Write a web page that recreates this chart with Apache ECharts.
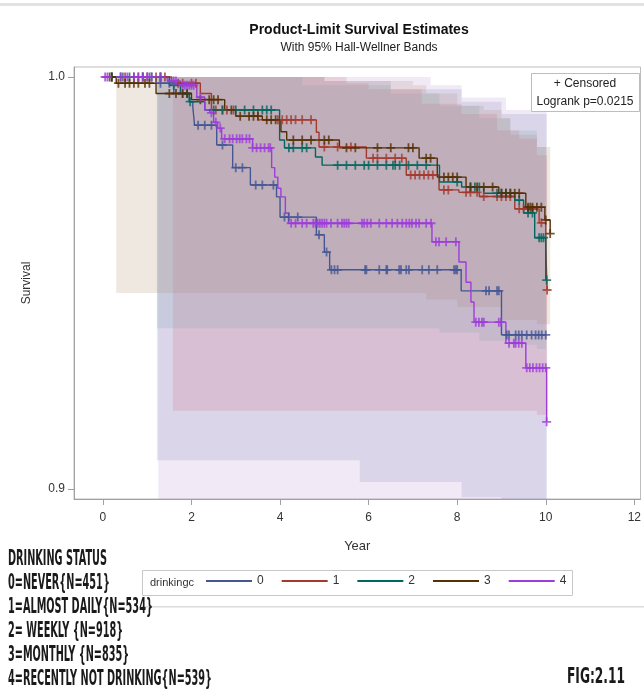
<!DOCTYPE html>
<html><head><meta charset="utf-8">
<script src="https://cdn.jsdelivr.net/npm/echarts@6/dist/echarts.min.js"></script>
<style>html,body{margin:0;padding:0;background:#fff}#c{width:644px;height:700px}</style>
</head><body><div id="c"></div>
<script>
// ---------- DATA ----------
const groups = ['0','1','2','3','4'];
const xTicks = [0,2,4,6,8,10,12];
const yTicks = [0.9,1.0];

// Kaplan-Meier steps (time, survival from that time)
const T0 = [0,1.2,1.6,1.95,2.03,2.07,2.57,2.93,3.33,3.92,4.0,4.82,5.0,5.12,8.09,9.0,10.02];
const S0 = [1.0,0.9985,0.996,0.994,0.9927,0.9883,0.9835,0.978,0.9738,0.9709,0.966,0.9617,0.9575,0.9532,0.9481,0.9374,0.9374];
const T1 = [0,1.55,2.2,2.45,3.5,4.82,4.88,5.95,6.85,7.59,8.04,8.5,9.3,9.85,10.0,10.03];
const S1 = [1.0,0.9985,0.996,0.992,0.9896,0.9866,0.983,0.9803,0.9762,0.9726,0.972,0.971,0.968,0.9646,0.9587,0.9483];
const T2 = [0,1.5,1.75,1.95,2.3,3.99,4.1,4.8,4.95,7.6,8.1,8.6,9.3,9.5,9.75,10.0];
const S2 = [1.0,0.998,0.996,0.994,0.992,0.9847,0.9828,0.9806,0.9786,0.9745,0.9733,0.9718,0.9701,0.967,0.961,0.9507];
const T3 = [0,0.3,1.2,2.0,2.75,3.0,3.6,4.02,4.15,5.34,7.14,7.55,8.2,8.94,9.55,9.98,10.1];
const S3 = [1.0,0.9985,0.996,0.9945,0.992,0.9905,0.9896,0.9867,0.9847,0.9828,0.9803,0.9757,0.9733,0.9718,0.9684,0.9653,0.962];
const T4 = [0,1.45,1.75,2.12,2.3,2.41,2.5,2.59,2.68,3.38,3.81,3.88,3.95,4.02,4.12,4.19,7.43,8.04,8.2,8.31,8.38,9.1,9.55,10.02];
const S4 = [1.0,0.999,0.998,0.9951,0.992,0.9913,0.989,0.9876,0.985,0.9828,0.978,0.9757,0.973,0.9709,0.967,0.9645,0.96,0.9551,0.9502,0.9454,0.9405,0.9354,0.9294,0.9163];

// Censoring times
const C0 = [0.2,0.45,0.7,0.9,1.05,1.3,1.5,1.8,2.15,2.3,2.45,2.7,3.0,3.15,3.45,3.6,3.85,4.1,4.2,4.4,4.88,5.05,5.16,5.23,5.3,5.92,5.95,6.24,6.4,6.42,6.69,6.73,6.85,6.91,7.21,7.36,7.55,7.93,7.97,8.0,8.65,8.72,8.9,8.94,9.12,9.17,9.32,9.39,9.46,9.57,9.68,9.77,9.84,9.91,10.0];
const C1 = [0.5,0.8,1.0,1.2,1.3,1.4,1.7,1.8,2.0,2.1,2.55,2.7,2.8,2.95,3.95,4.05,4.15,4.25,4.35,4.5,4.7,5.0,5.3,5.6,6.1,6.2,6.4,6.6,6.75,6.95,7.05,7.15,7.25,7.35,7.45,7.7,7.8,8.2,8.3,8.45,8.6,8.9,9.0,9.1,9.2,9.4,9.5,9.6,9.7,9.9,10.03];
const C2 = [0.2,0.4,0.6,0.9,1.1,1.3,1.6,1.9,1.97,2.5,2.7,3.0,3.2,3.4,3.6,3.7,3.8,4.2,4.3,4.5,4.6,5.3,5.5,5.7,5.9,6.0,6.2,6.4,6.55,6.6,6.7,6.9,7.1,7.3,8.0,8.3,8.4,8.5,8.9,9.0,9.1,9.2,9.4,9.6,9.7,9.85,9.9,9.95,10.02];
const C3 = [0.15,0.2,0.35,0.5,0.6,0.7,0.8,0.95,1.05,1.5,1.65,1.8,1.9,2.2,2.4,2.5,2.6,2.9,3.1,3.3,3.4,3.5,3.7,3.8,3.9,4.3,4.5,4.7,5.0,5.1,5.5,5.7,6.2,6.5,6.9,7.0,7.3,7.4,7.7,7.8,7.9,8.0,8.3,8.45,8.6,8.8,9.0,9.1,9.2,9.3,9.4,9.6,9.65,9.7,9.8,9.9,10.0,10.1];
const C4 = [0.05,0.1,0.4,0.55,0.7,0.8,0.9,1.0,1.1,1.3,1.55,1.6,1.65,1.8,1.85,1.9,1.95,2.0,2.05,2.2,2.45,2.55,2.65,2.75,2.86,2.93,3.02,3.09,3.15,3.24,3.31,3.38,3.47,3.56,3.65,3.74,3.78,4.25,4.35,4.5,4.6,4.75,4.8,4.85,4.9,4.95,5.0,5.05,5.15,5.3,5.4,5.45,5.5,5.55,5.85,5.9,5.97,6.05,6.24,6.4,6.53,6.65,6.76,6.85,6.92,6.98,7.07,7.14,7.3,7.41,7.52,7.59,7.75,7.97,8.42,8.49,8.56,8.6,8.94,8.99,9.17,9.28,9.32,9.39,9.46,9.57,9.64,9.71,9.79,9.86,9.93,10.0,10.02];

// Hall-Wellner bands: interval start times, lower and upper per interval
const B0t  = [1.22,5.0,5.8,6.5,8.1,9.0,10.02];
const B0lo = [0.907,0.907,0.9017,0.9017,0.898,0.885];
const B0hi = [1.0,0.999,0.999,0.997,0.994,0.991];
const B1t  = [1.58,5.5,6.0,7.2,8.1,8.9,9.4,9.8,10.03];
const B1lo = [0.919,0.919,0.919,0.919,0.919,0.919,0.919,0.918];
const B1hi = [1.0,0.9985,0.997,0.9935,0.991,0.987,0.985,0.981];
const B2t  = [1.22,4.5,6.5,7.6,8.5,9.2,9.8,10.0];
const B2lo = [0.939,0.939,0.939,0.938,0.936,0.935,0.934];
const B2hi = [1.0,0.998,0.996,0.993,0.99,0.987,0.983];
const B3t  = [0.3,5.0,7.0,7.3,8.0,8.6,9.0,9.2,9.8,10.1];
const B3lo = [0.9476,0.9476,0.9476,0.946,0.9442,0.9442,0.941,0.941,0.94];
const B3hi = [1.0,0.999,0.998,0.996,0.993,0.992,0.99,0.986,0.983];
const B4t  = [1.25,7.4,8.1,9.1,10.02];
const B4lo = [0.885,0.885,0.885,0.885];
const B4hi = [1.0,0.998,0.995,0.992];

// ---------- CHART ----------
const colors = ['#445694','#A23A2E','#01665E','#543005','#9D3CDB'];
const fills  = ['#6F7EB3','#D05B5B','#66A5A0','#A9865B','#B689CD'];
const KT=[T0,T1,T2,T3,T4], KS=[S0,S1,S2,S3,S4], CT=[C0,C1,C2,C3,C4];
const BT=[B0t,B1t,B2t,B3t,B4t], BLO=[B0lo,B1lo,B2lo,B3lo,B4lo], BHI=[B0hi,B1hi,B2hi,B3hi,B4hi];
const Y_MIN=0.897573, Y_MAX=1.002427;

function hexA(h,a){const r=parseInt(h.slice(1,3),16),g=parseInt(h.slice(3,5),16),b=parseInt(h.slice(5,7),16);return `rgba(${r},${g},${b},${a})`;}
function stepAt(T,S,x){let v=S[0];for(let k=0;k<T.length;k++){if(T[k]<=x+1e-9)v=S[k];}return v;}

const series=[];
[0,1,2,3,4].forEach(i=>{
  const t=BT[i], lo=BLO[i], hi=BHI[i];
  series.push({type:'custom',name:'band'+i,silent:true,z:1,clip:true,data:[0],
    renderItem:(p,api)=>{
      const pts=[];
      for(let k=0;k<t.length-1;k++){pts.push(api.coord([t[k],Math.min(hi[k],Y_MAX)]));pts.push(api.coord([t[k+1],Math.min(hi[k],Y_MAX)]));}
      for(let k=t.length-2;k>=0;k--){pts.push(api.coord([t[k+1],Math.max(lo[k],Y_MIN)]));pts.push(api.coord([t[k],Math.max(lo[k],Y_MIN)]));}
      return {type:'polygon',shape:{points:pts},style:{fill:hexA(fills[i],0.19),stroke:null}};
    }});
});
groups.forEach((g,i)=>{
  series.push({type:'line',name:g,step:'end',symbol:'none',showSymbol:false,z:3,
    data:KT[i].map((t,k)=>[t,KS[i][k]]),
    lineStyle:{color:colors[i],width:1.4},itemStyle:{color:colors[i]},animation:false});
});
const plusPath='path://M3.2,0h1.6v3.2h3.2v1.6h-3.2v3.2h-1.6v-3.2h-3.2v-1.6h3.2z';
groups.forEach((g,i)=>{
  series.push({type:'scatter',name:'c'+g,z:4,symbol:plusPath,symbolSize:9,
    data:CT[i].map(t=>[t,stepAt(KT[i],KS[i],t)]),
    itemStyle:{color:colors[i]},silent:true,animation:false});
});

// condensed caption text: compute horizontal scale
const capFont='bold 21px "DejaVu Sans Condensed","Liberation Sans Narrow",sans-serif';
const cv=document.createElement('canvas').getContext('2d');cv.font=capFont;
const capScale=204/cv.measureText('4=RECENTLY NOT DRINKING{N=539}').width;
const capLines=['DRINKING STATUS','0=NEVER{N=451}','1=ALMOST DAILY{N=534}','2= WEEKLY {N=918}','3=MONTHLY {N=835}','4=RECENTLY NOT DRINKING{N=539}'];
const capY=[560,584,608,632,656,680];
const capEls=capLines.map((s,k)=>({type:'text',x:8,y:capY[k],scaleX:capScale,z:10,
  style:{text:s,font:capFont,fill:'#1a1a1a',textVerticalAlign:'middle',textAlign:'left'}}));
cv.font='bold 22px "DejaVu Sans Condensed","Liberation Sans Narrow",sans-serif';
const figScale=58/cv.measureText('FIG:2.11').width;

const chart=echarts.init(document.getElementById('c'),null,{renderer:'canvas'});
chart.setOption({
  animation:false,
  backgroundColor:'#fff',
  grid:{left:74,top:67,width:568,height:432,show:true,borderColor:'#bdbdbd',borderWidth:1,backgroundColor:'transparent'},
  xAxis:{type:'value',min:-0.653,max:12.14,
    axisLine:{onZero:false,lineStyle:{color:'#a0a0a0'}},
    axisTick:{show:true,length:6,customValues:xTicks,lineStyle:{color:'#a0a0a0'}},
    axisLabel:{customValues:xTicks,margin:13,fontSize:12,color:'#333',fontFamily:'Liberation Sans'},
    splitLine:{show:false},
    name:'Year',nameLocation:'middle',nameGap:41,nameTextStyle:{fontSize:13,color:'#333',fontFamily:'Liberation Sans'}},
  yAxis:{type:'value',min:Y_MIN,max:Y_MAX,
    axisLine:{show:true,onZero:false,lineStyle:{color:'#a0a0a0'}},
    axisTick:{show:true,length:6,customValues:yTicks,lineStyle:{color:'#a0a0a0'}},
    axisLabel:{customValues:yTicks,formatter:v=>v.toFixed(1),margin:9,fontSize:12,color:'#333',fontFamily:'Liberation Sans'},
    splitLine:{show:false},
    name:'Survival',nameLocation:'middle',nameGap:41,nameRotate:90,nameTextStyle:{fontSize:12,color:'#333',fontFamily:'Liberation Sans'}},
  legend:{data:groups,left:206,top:575,itemWidth:46,itemHeight:2,icon:'rect',itemGap:18,padding:0,
    textStyle:{fontSize:12,color:'#333',fontFamily:'Liberation Sans'},selectedMode:false},
  graphic:[
    {type:'rect',shape:{x:0,y:3,width:644,height:3},style:{fill:'#e2e2e2'},z:0},
    {type:'text',x:359,y:30,z:10,style:{text:'Product-Limit Survival Estimates',font:'bold 14px "Liberation Sans",Arial,sans-serif',fill:'#111',textAlign:'center',textVerticalAlign:'middle'}},
    {type:'text',x:359,y:48,z:10,style:{text:'With 95% Hall-Wellner Bands',font:'12px "Liberation Sans",Arial,sans-serif',fill:'#222',textAlign:'center',textVerticalAlign:'middle'}},
    {type:'rect',shape:{x:531.5,y:73.5,width:108,height:38},style:{fill:'#fff',stroke:'#bdbdbd',lineWidth:1},z:9},
    {type:'text',x:585,y:84,z:10,style:{text:'+ Censored',font:'12px "Liberation Sans",Arial,sans-serif',fill:'#222',textAlign:'center',textVerticalAlign:'middle'}},
    {type:'text',x:585,y:102,z:10,style:{text:'Logrank p=0.0215',font:'12px "Liberation Sans",Arial,sans-serif',fill:'#222',textAlign:'center',textVerticalAlign:'middle'}},
    {type:'rect',shape:{x:142.5,y:570.5,width:430,height:25},style:{fill:'none',stroke:'#c8c8c8',lineWidth:1},z:5},
    {type:'text',x:150,y:583,z:10,style:{text:'drinkingc',font:'11px "Liberation Sans",Arial,sans-serif',fill:'#333',textAlign:'left',textVerticalAlign:'middle'}},
    {type:'rect',shape:{x:140,y:606,width:504,height:1.5},style:{fill:'#dcdcdc'},z:0},
    ...capEls,
    {type:'text',x:567,y:677,scaleX:figScale,z:10,style:{text:'FIG:2.11',font:'bold 22px "DejaVu Sans Condensed","Liberation Sans Narrow",sans-serif',fill:'#1a1a1a',textAlign:'left',textVerticalAlign:'middle'}}
  ],
  series:series
});
</script></body></html>
